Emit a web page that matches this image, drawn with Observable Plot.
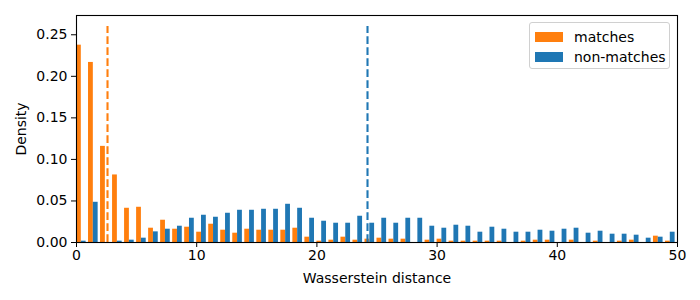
<!DOCTYPE html>
<html>
<head>
<meta charset="utf-8">
<script src="https://cdn.jsdelivr.net/npm/d3@7"></script>
<script src="https://cdn.jsdelivr.net/npm/@observablehq/plot@0.6"></script>
<style>
  html, body { margin: 0; padding: 0; background: #fff; }
  #wrap { position: relative; width: 700px; height: 300px; font-family: "DejaVu Sans", sans-serif; }
  #legend { position: absolute; left: 529px; top: 22px; width: 139px; height: 45px;
    border: 1px solid #d0d0d0; border-radius: 3px; background: rgba(255,255,255,0.8);
    font-size: 14px; color: #000; }
  .item { position: absolute; left: 5px; height: 16px; display: flex; align-items: center; }
  .sw { width: 28px; height: 10px; margin-right: 11px; }
</style>
</head>
<body>
<div id="wrap"></div>
<script>
const bins = [0,1,2,3,4,5,6,7,8,9,10,11,12,13,14,15,16,17,18,19,20,21,22,23,24,25,26,27,28,29,30,31,32,33,34,35,36,37,38,39,40,41,42,43,44,45,46,47,48,49];
const matches = [0.2375,0.2167,0.1157,0.0813,0.0412,0.0424,0.0172,0.0268,0.016,0.0184,
  0.0124,0.022,0.0148,0.0112,0.016,0.0148,0.0148,0.0148,0.0172,0.0064,
  0.0016,0.0028,0.0064,0.0028,0.004,0.0052,0.004,0.004,0,0.0028,
  0.004,0.0016,0.0016,0.0016,0.0016,0.0016,0,0.0016,0.0028,0.0028,
  0,0.0028,0,0.0016,0,0.0016,0.0028,0,0.0076,0.0016];
const nonMatches = [0.0016,0.0484,0,0.0016,0.0028,0.0052,0.0128,0.016,0.0196,0.0292,
  0.0328,0.0304,0.0352,0.0388,0.0388,0.040,0.040,0.046,0.0412,0.0292,
  0.0256,0.0232,0.0232,0.0316,0.0232,0.0292,0.0232,0.0292,0.0292,0.0196,
  0.0172,0.0208,0.0196,0.0124,0.0184,0.016,0.0124,0.0124,0.0148,0.0136,
  0.016,0.0172,0.0112,0.0136,0.01,0.01,0.0088,0.0052,0.0064,0.0124];
const seriesNames = ["matches", "non-matches"];
const seriesColors = ["#ff7f0e", "#1f77b4"];
const means = [2.58, 24.21];
const meanTop = 0.26;
const xTicks = [0, 10, 20, 30, 40, 50];
const yTicks = [0, 0.05, 0.10, 0.15, 0.20, 0.25];

const rows = [];
bins.forEach((b, i) => {
  rows.push({bin: b, series: 0, value: matches[i]});
  rows.push({bin: b, series: 1, value: nonMatches[i]});
});
const meanRows = means.map((m, i) => ({x: m, series: i}));

const chart = Plot.plot({
  width: 700, height: 300,
  marginLeft: 76, marginRight: 23, marginTop: 15, marginBottom: 58,
  style: {fontFamily: "DejaVu Sans, sans-serif", fontSize: "14px", color: "#000", background: "#fff"},
  x: {domain: [0, 50]},
  y: {domain: [0, 0.2732]},
  marks: [
    Plot.rectY(rows, {
      x1: d => d.bin + 0.4 * d.series,
      x2: d => d.bin + 0.4 * (d.series + 1),
      y1: 0, y2: "value",
      fill: d => seriesColors[d.series],
      insetLeft: 0, insetRight: 0
    }),
    Plot.ruleX(meanRows, {x: "x", y1: 0, y2: meanTop, stroke: d => seriesColors[d.series],
      strokeWidth: 2.1, strokeDasharray: "7.7,3.3"}),
    Plot.frame({stroke: "#000", strokeWidth: 1.1}),
    Plot.axisX({ticks: xTicks, tickSize: 5, tickPadding: 3, tickFormat: d3.format("d"),
      label: "Wasserstein distance", labelAnchor: "center", labelArrow: "none", labelOffset: 40, fontSize: 14}),
    Plot.axisY({ticks: yTicks, tickSize: 5, tickPadding: 4, tickFormat: d3.format(".2f"),
      label: "Density", labelAnchor: "center", labelArrow: "none", labelOffset: 60, fontSize: 14})
  ]
});
const wrap = document.getElementById("wrap");
wrap.appendChild(chart);

const legend = document.createElement("div");
legend.id = "legend";
seriesNames.forEach((name, i) => {
  const it = document.createElement("div");
  it.className = "item";
  it.style.top = (i === 0 ? 6 : 26) + "px";
  const sw = document.createElement("div");
  sw.className = "sw";
  sw.style.background = seriesColors[i];
  const tx = document.createElement("span");
  tx.textContent = name;
  it.appendChild(sw); it.appendChild(tx);
  legend.appendChild(it);
});
wrap.appendChild(legend);
</script>
</body>
</html>
